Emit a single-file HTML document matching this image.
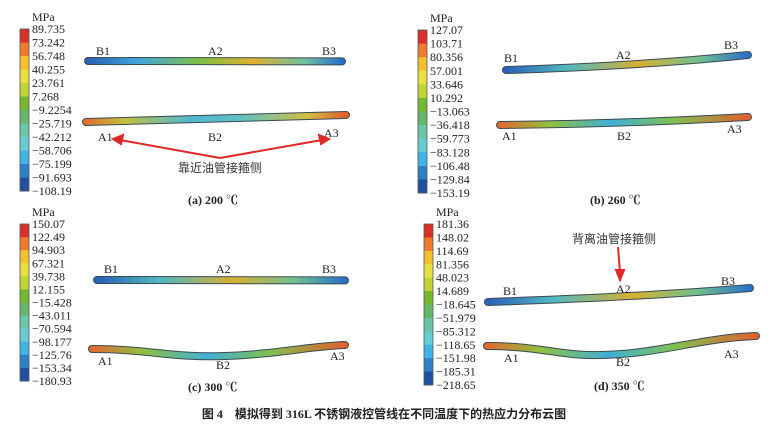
<!DOCTYPE html>
<html><head><meta charset="utf-8">
<style>
html,body{margin:0;padding:0;background:#fff;}
svg{display:block;font-family:"Liberation Serif","Noto Serif CJK SC",serif;}
.lab{font-size:12px;fill:#222;}
.cap{font-size:12px;font-weight:bold;fill:#222;}
.cn{font-family:"Liberation Sans","Noto Sans CJK SC",sans-serif;font-size:12px;fill:#333;}
</style></head>
<body>
<svg id="fig" width="768" height="428" viewBox="0 0 768 428">
<defs>
<linearGradient id="gA1" x1="0" x2="1"><stop offset="0" stop-color="#2a60b8"/><stop offset="0.2" stop-color="#40a8d8"/><stop offset="0.45" stop-color="#80c040"/><stop offset="0.65" stop-color="#e0b030"/><stop offset="0.85" stop-color="#70c0a0"/><stop offset="1" stop-color="#2a70c8"/></linearGradient>
<linearGradient id="gA2" x1="0" x2="1"><stop offset="0" stop-color="#e07030"/><stop offset="0.15" stop-color="#c0c040"/><stop offset="0.4" stop-color="#50b8d0"/><stop offset="0.6" stop-color="#60c0c0"/><stop offset="0.85" stop-color="#d0c040"/><stop offset="1" stop-color="#e06030"/></linearGradient>
<linearGradient id="gU" x1="0" x2="1"><stop offset="0" stop-color="#2a60b8"/><stop offset="0.25" stop-color="#50b8c0"/><stop offset="0.55" stop-color="#d8b030"/><stop offset="0.8" stop-color="#70c090"/><stop offset="1" stop-color="#2a70c8"/></linearGradient>
<linearGradient id="gL" x1="0" x2="1"><stop offset="0" stop-color="#e06a30"/><stop offset="0.2" stop-color="#90c040"/><stop offset="0.45" stop-color="#40b0d8"/><stop offset="0.7" stop-color="#80c050"/><stop offset="1" stop-color="#e06030"/></linearGradient>
</defs>
<g id="bars"></g>
<g id="pipes">
 <path d="M88,61 L342,61.4" stroke="#3a4a50" stroke-width="8" stroke-linecap="round" fill="none"/>
 <path d="M88,61 L342,61.4" stroke="url(#gA1)" stroke-width="6" stroke-linecap="round" fill="none"/>
 <path d="M86,122 L346,115" stroke="#3a4a50" stroke-width="8" stroke-linecap="round" fill="none"/>
 <path d="M86,122 L346,115" stroke="url(#gA2)" stroke-width="6" stroke-linecap="round" fill="none"/>
 <path d="M506,70 Q640,66 748,55" stroke="#3a4a50" stroke-width="8" stroke-linecap="round" fill="none"/>
 <path d="M506,70 Q640,66 748,55" stroke="url(#gU)" stroke-width="6" stroke-linecap="round" fill="none"/>
 <path d="M500,125 Q620,124 748,117" stroke="#3a4a50" stroke-width="8" stroke-linecap="round" fill="none"/>
 <path d="M500,125 Q620,124 748,117" stroke="url(#gL)" stroke-width="6" stroke-linecap="round" fill="none"/>
 <path d="M97,280 L345,280.4" stroke="#3a4a50" stroke-width="8" stroke-linecap="round" fill="none"/>
 <path d="M97,280 L345,280.4" stroke="url(#gU)" stroke-width="6" stroke-linecap="round" fill="none"/>
 <path d="M92,349 C150,349 170,358 225,356 C280,354 310,346 345,345" stroke="#3a4a50" stroke-width="8" stroke-linecap="round" fill="none"/>
 <path d="M92,349 C150,349 170,358 225,356 C280,354 310,346 345,345" stroke="url(#gL)" stroke-width="6" stroke-linecap="round" fill="none"/>
 <path d="M488,302 Q640,297 750,288" stroke="#3a4a50" stroke-width="8" stroke-linecap="round" fill="none"/>
 <path d="M488,302 Q640,297 750,288" stroke="url(#gU)" stroke-width="6" stroke-linecap="round" fill="none"/>
 <path d="M487,346 C540,346 560,356 600,355 C660,354 700,338 756,336" stroke="#3a4a50" stroke-width="8" stroke-linecap="round" fill="none"/>
 <path d="M487,346 C540,346 560,356 600,355 C660,354 700,338 756,336" stroke="url(#gL)" stroke-width="6" stroke-linecap="round" fill="none"/>
</g>
<g id="labels" class="lab">
 <text x="96" y="55">B1</text><text x="208" y="55">A2</text><text x="322" y="55">B3</text>
 <text x="98" y="141">A1</text><text x="208" y="141">B2</text><text x="324" y="137">A3</text>
 <text x="504" y="62">B1</text><text x="616" y="59">A2</text><text x="724" y="49">B3</text>
 <text x="502" y="140">A1</text><text x="617" y="140">B2</text><text x="727" y="133">A3</text>
 <text x="104" y="273">B1</text><text x="216" y="273">A2</text><text x="322" y="273">B3</text>
 <text x="98" y="365">A1</text><text x="216" y="369">B2</text><text x="330" y="360">A3</text>
 <text x="503" y="295">B1</text><text x="616" y="293">A2</text><text x="721" y="285">B3</text>
 <text x="504" y="362">A1</text><text x="616" y="366">B2</text><text x="724" y="358">A3</text>
</g>
<g stroke="#e02828" stroke-width="2" fill="#e02828">
 <line x1="220" y1="158" x2="120" y2="140"/><polygon points="113,139 123,135 121,144"/>
 <line x1="220" y1="158" x2="322" y2="140"/><polygon points="329,139 319,135 321,144"/>
 <line x1="618" y1="247" x2="620" y2="272"/><polygon points="620,280 616,270 624,270"/>
</g>
<text class="cn" x="178" y="172">靠近油管接箍侧</text>
<text class="cn" x="572" y="243">背离油管接箍侧</text>
<text class="cap" x="188" y="204">(a) 200 ℃</text>
<text class="cap" x="590" y="204">(b) 260 ℃</text>
<text class="cap" x="188" y="391">(c) 300 ℃</text>
<text class="cap" x="594" y="390">(d) 350 ℃</text>
<text class="cap" x="384" y="418" text-anchor="middle" style="font-family:'Liberation Serif','Noto Sans CJK SC',sans-serif">图 4　模拟得到 316L 不锈钢液控管线在不同温度下的热应力分布云图</text>
</svg>
<script>
const ticksA = ["89.735","73.242","56.748","40.255","23.761","7.268","−9.2254","−25.719","−42.212","−58.706","−75.199","−91.693","−108.19"];
const ticksB = ["127.07","103.71","80.356","57.001","33.646","10.292","−13.063","−36.418","−59.773","−83.128","−106.48","−129.84","−153.19"];
const ticksC = ["150.07","122.49","94.903","67.321","39.738","12.155","−15.428","−43.011","−70.594","−98.177","−125.76","−153.34","−180.93"];
const ticksD = ["181.36","148.02","114.69","81.356","48.023","14.689","−18.645","−51.979","−85.312","−118.65","−151.98","−185.31","−218.65"];
const colors = ["#d8302a","#ee7a30","#f4c030","#e8e040","#c0d438","#74b830","#5cb040","#66b868","#6cc4a8","#68ccd4","#40b4e4","#3080c8","#2250a0"];
const bars = [
 {t:ticksA,x:20,y0:29,y1:191,name:"a"},
 {t:ticksB,x:418,y0:30,y1:193,name:"b"},
 {t:ticksC,x:20,y0:224,y1:381,name:"c"},
 {t:ticksD,x:424,y0:224,y1:385,name:"d"}];
const NS="http://www.w3.org/2000/svg";
const g=document.getElementById('bars');
bars.forEach(b=>{
 const n=b.t.length, seg=(b.y1-b.y0)/(n-1);
 const mp=document.createElementNS(NS,'text');
 mp.setAttribute('x',b.x+12);mp.setAttribute('y',b.y0-8);mp.setAttribute('class','lab');mp.textContent='MPa';
 
 
 g.appendChild(mp);
 for(let i=0;i<n-1;i++){
  const r=document.createElementNS(NS,'rect');
  r.setAttribute('x',b.x);r.setAttribute('y',b.y0+i*seg);r.setAttribute('width',9);r.setAttribute('height',seg+0.5);
  r.setAttribute('fill',colors[Math.round(i*(colors.length-1)/(n-2))]);
  
  
  g.appendChild(r);
 }
 const o=document.createElementNS(NS,'rect');
 o.setAttribute('x',b.x);o.setAttribute('y',b.y0);o.setAttribute('width',9);o.setAttribute('height',b.y1-b.y0);
 o.setAttribute('fill','none');o.setAttribute('stroke','#555');o.setAttribute('stroke-width','0.8');
 
 
 g.appendChild(o);
 b.t.forEach((s,i)=>{
  const t=document.createElementNS(NS,'text');
  t.setAttribute('x',b.x+12);t.setAttribute('y',b.y0+i*seg+4);t.setAttribute('class','lab');t.textContent=s;
  
  
  g.appendChild(t);
 });
});
</script>
</body></html>
